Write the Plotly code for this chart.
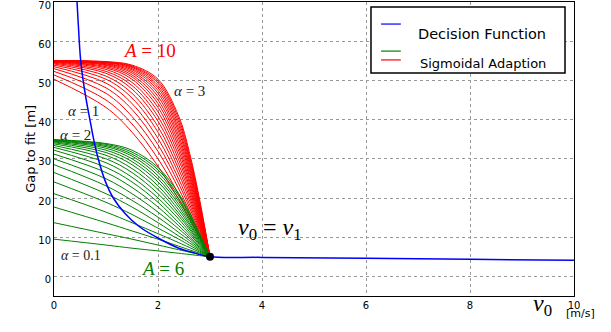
import plotly.graph_objects as go

sample_v = [0, 1, 1.5, 2, 2.4, 2.6, 2.8, 3]

# A = 10 family (red), alpha 1.0 .. 3.0
red_alpha = [1.0, 1.1, 1.2, 1.3, 1.4, 1.5, 1.6, 1.7, 1.8, 1.9, 2.0,
             2.1, 2.2, 2.3, 2.4, 2.5, 2.6, 2.7, 2.8, 2.9, 3.0]
red_gap = [
    [50.3, 43.1, 36.8, 28.1, 19.6, 14.9, 10.0, 5],
    [51.4, 45.0, 38.9, 30.0, 20.9, 15.8, 10.5, 5],
    [52.3, 46.7, 40.8, 31.9, 22.3, 16.8, 11.0, 5],
    [53.0, 48.1, 42.6, 33.6, 23.6, 17.7, 11.5, 5],
    [53.5, 49.3, 44.1, 35.2, 24.8, 18.6, 12.0, 5],
    [53.9, 50.3, 45.5, 36.8, 26.1, 19.6, 12.4, 5],
    [54.2, 51.1, 46.7, 38.2, 27.3, 20.5, 12.9, 5],
    [54.4, 51.8, 47.8, 39.6, 28.5, 21.4, 13.4, 5],
    [54.6, 52.3, 48.7, 40.8, 29.7, 22.3, 13.9, 5],
    [54.7, 52.8, 49.5, 42.0, 30.8, 23.1, 14.4, 5],
    [54.8, 53.2, 50.3, 43.1, 31.9, 24.0, 14.9, 5],
    [54.8, 53.5, 50.9, 44.1, 32.9, 24.8, 15.4, 5],
    [54.9, 53.8, 51.4, 45.0, 33.9, 25.7, 15.8, 5],
    [54.9, 54.0, 51.9, 45.9, 34.9, 26.5, 16.3, 5],
    [54.9, 54.2, 52.3, 46.7, 35.8, 27.3, 16.8, 5],
    [54.9, 54.3, 52.7, 47.4, 36.8, 28.1, 17.2, 5],
    [55.0, 54.5, 53.0, 48.1, 37.6, 28.9, 17.7, 5],
    [55.0, 54.6, 53.3, 48.7, 38.5, 29.7, 18.2, 5],
    [55.0, 54.6, 53.5, 49.3, 39.3, 30.4, 18.6, 5],
    [55.0, 54.7, 53.7, 49.8, 40.1, 31.1, 19.1, 5],
    [55.0, 54.8, 53.9, 50.3, 40.8, 31.9, 19.6, 5],
]

# A = 6 family (green), alpha 0.1 .. 2.0
green_alpha = [0.1, 0.2, 0.3, 0.4, 0.5, 0.6, 0.7, 0.8, 0.9, 1.0,
               1.1, 1.2, 1.3, 1.4, 1.5, 1.6, 1.7, 1.8, 1.9, 2.0]
green_gap = [
    [9.5, 8.0, 7.2, 6.5, 5.9, 5.6, 5.3, 5],
    [13.7, 10.9, 9.5, 8.0, 6.8, 6.2, 5.6, 5],
    [17.7, 13.7, 11.6, 9.5, 7.7, 6.8, 5.9, 5],
    [21.1, 16.4, 13.7, 10.9, 8.6, 7.4, 6.2, 5],
    [24.1, 18.9, 15.8, 12.3, 9.5, 8.0, 6.5, 5],
    [26.5, 21.1, 17.7, 13.7, 10.3, 8.6, 6.8, 5],
    [28.5, 23.1, 19.4, 15.1, 11.2, 9.2, 7.1, 5],
    [30.0, 24.9, 21.1, 16.4, 12.1, 9.8, 7.4, 5],
    [31.2, 26.5, 22.7, 17.7, 12.9, 10.3, 7.7, 5],
    [32.2, 27.8, 24.1, 18.9, 13.7, 10.9, 8.0, 5],
    [32.9, 29.0, 25.3, 20.0, 14.6, 11.5, 8.3, 5],
    [33.4, 30.0, 26.5, 21.1, 15.4, 12.1, 8.6, 5],
    [33.8, 30.9, 27.5, 22.2, 16.1, 12.6, 8.9, 5],
    [34.1, 31.6, 28.5, 23.1, 16.9, 13.2, 9.2, 5],
    [34.3, 32.2, 29.3, 24.1, 17.7, 13.7, 9.5, 5],
    [34.5, 32.7, 30.0, 24.9, 18.4, 14.3, 9.8, 5],
    [34.6, 33.1, 30.7, 25.7, 19.1, 14.8, 10.1, 5],
    [34.7, 33.4, 31.2, 26.5, 19.8, 15.4, 10.3, 5],
    [34.8, 33.7, 31.7, 27.2, 20.5, 15.9, 10.6, 5],
    [34.9, 33.9, 32.2, 27.8, 21.1, 16.4, 10.9, 5],
]

# decision function (blue)
decision_v = [0.43, 0.46, 0.51, 0.56, 0.62, 0.69, 0.77, 0.85, 0.98, 1.14,
              1.37, 1.65, 2.0, 2.4, 2.7, 3.0, 4, 6, 8, 10]
decision_gap = [73, 66, 55.5, 50, 45, 40, 34.5, 30, 24.5, 20,
                16, 12.6, 9.8, 7.2, 6.0, 5.0, 4.85, 4.6, 4.35, 4.1]

switch_v = [3]
switch_gap = [5]

x_ticks = [0, 2, 4, 6, 8, 10]
y_ticks = [0, 10, 20, 30, 40, 50, 60, 70]

fig = go.Figure()

for a, g in zip(red_alpha, red_gap):
    fig.add_trace(go.Scatter(x=sample_v, y=g, mode="lines", line_shape="spline",
                             line=dict(color="#ff0000", width=1),
                             name=f"alpha={a}", showlegend=False))
for a, g in zip(green_alpha, green_gap):
    fig.add_trace(go.Scatter(x=sample_v, y=g, mode="lines", line_shape="spline",
                             line=dict(color="#008000", width=1),
                             name=f"alpha={a}", showlegend=False))

fig.add_trace(go.Scatter(x=decision_v, y=decision_gap, mode="lines", line_shape="spline",
                         line=dict(color="#0000ff", width=1.5), showlegend=False))
fig.add_trace(go.Scatter(x=switch_v, y=switch_gap, mode="markers",
                         marker=dict(color="black", size=8), showlegend=False))

serif = "Liberation Serif, DejaVu Serif, serif"
notes = [
    (1.83, 57.7, "<i>A</i> = 10", "#ff0000", 19),
    (2.08, 2.0, "<i>A</i> = 6", "#008000", 19),
    (2.6, 47.4, "<i>α</i> = 3", "#222", 15),
    (0.56, 42.1, "<i>α</i> = 1", "#222", 15),
    (0.42, 36.0, "<i>α</i> = 2", "#222", 15),
    (0.52, 5.4, "<i>α</i> = 0.1", "#222", 14),
    (4.15, 12.2, "<i>v</i><sub>0</sub> = <i>v</i><sub>1</sub>", "black", 24),
]
for x, y, t, c, s in notes:
    fig.add_annotation(x=x, y=y, text=t, showarrow=False,
                       font=dict(family=serif, size=s, color=c))

# axis titles
fig.add_annotation(xref="paper", yref="paper", x=0.962, y=-0.087,
                   text="<i>v</i><sub>0</sub>", showarrow=False,
                   font=dict(family=serif, size=24, color="black"))
fig.add_annotation(xref="paper", yref="paper", x=1.044, y=-0.09,
                   text="[m/s]", showarrow=False,
                   font=dict(family="DejaVu Sans", size=11, color="black"))
fig.add_annotation(xref="paper", yref="paper", x=-0.065, y=0.5, textangle=-90,
                   text="Gap to fit [m]", showarrow=False,
                   font=dict(family="DejaVu Sans", size=13, color="black"))

# hand made legend box
fig.add_shape(type="rect", xref="paper", yref="paper", x0=0.6096, x1=0.9827,
              y0=0.7585, y1=0.983, line=dict(color="black", width=1.5),
              fillcolor="white", layer="above")
for y0, col in [(0.925, "#0000ff"), (0.833, "#008000"), (0.803, "#ff0000")]:
    fig.add_shape(type="line", xref="paper", yref="paper", x0=0.629, x1=0.667,
                  y0=y0, y1=y0, line=dict(color=col, width=1.2), layer="above")
fig.add_annotation(xref="paper", yref="paper", x=0.696, y=0.925, xanchor="left",
                   text="Decision Function", showarrow=False,
                   font=dict(family="DejaVu Sans", size=14.5, color="black"))
fig.add_annotation(xref="paper", yref="paper", x=0.700, y=0.822, xanchor="left",
                   text="Sigmoidal Adaption", showarrow=False,
                   font=dict(family="DejaVu Sans", size=13, color="black"))

axis_style = dict(showline=True, mirror=True, linecolor="black", linewidth=1,
                  showgrid=True, gridcolor="#999999", griddash="dot", gridwidth=1,
                  zeroline=False, ticks="", automargin=False, ticklabeloverflow="allow",
                  tickfont=dict(family="DejaVu Sans", size=10, color="black"))
fig.update_xaxes(range=[0, 10], tickvals=x_ticks, **axis_style)
fig.update_yaxes(range=[-5, 70], tickvals=y_ticks, ticklabelstandoff=0,
                 ticklabelshift=3, **axis_style)

fig.update_layout(width=611, height=332,
                  margin=dict(l=54, r=37, t=2, b=36, autoexpand=False),
                  plot_bgcolor="white", paper_bgcolor="white")

# drop the page's default body margin so the figure sits at the corner
fig.write_html("out.html", config={"displayModeBar": False},
               post_script="document.body.style.margin='0px';")
